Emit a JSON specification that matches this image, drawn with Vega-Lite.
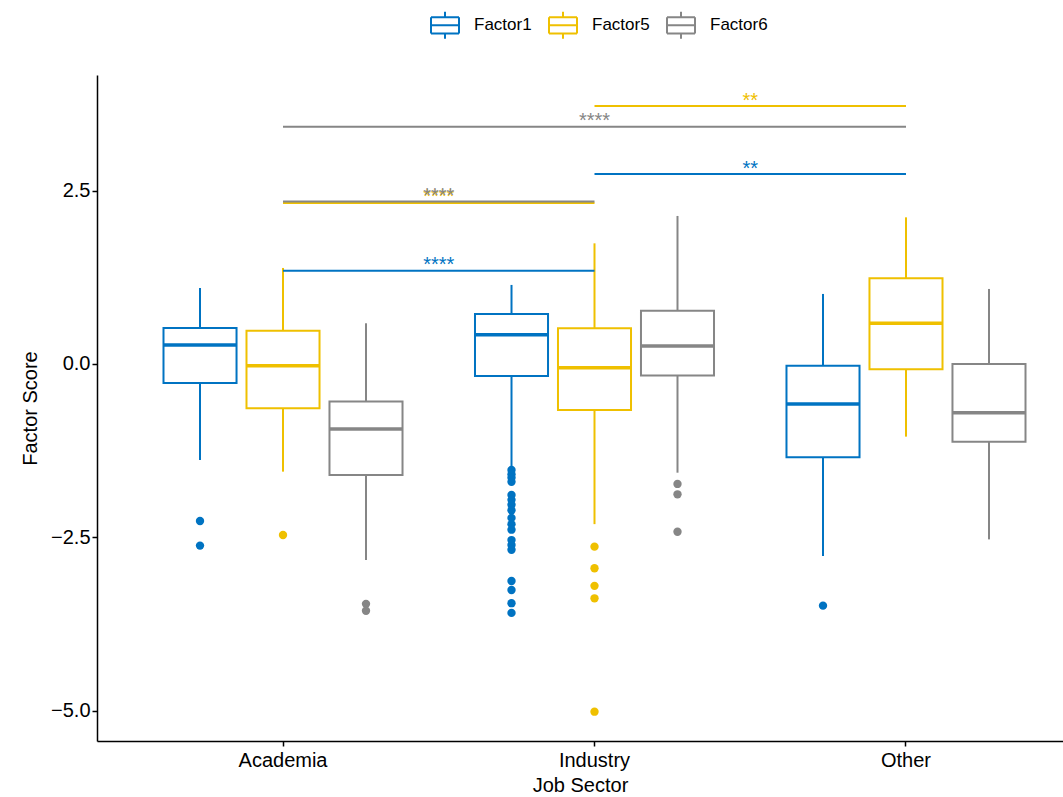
{
  "$schema": "https://vega.github.io/schema/vega-lite/v6.json",
  "autosize": {"type": "none"},
  "padding": {"left": 97, "top": 75, "right": 0, "bottom": 56},
  "width": 966,
  "height": 666,
  "config": {
    "view": {"stroke": null},
    "font": "Liberation Sans",
    "axis": {"grid": false, "domainColor": "black", "domainWidth": 1.5, "tickColor": "black", "tickWidth": 1.5, "tickSize": 5, "labelColor": "black", "labelFontSize": 20, "titleFontSize": 20, "titleFontWeight": "normal", "titleColor": "black", "labelFont": "Liberation Sans", "titleFont": "Liberation Sans"}
  },
  "datasets": {
    "boxes": [
      {"sector": "Academia", "factor": "Factor1", "lo": -1.385, "q1": -0.274, "med": 0.274, "q3": 0.519, "hi": 1.096},
      {"sector": "Academia", "factor": "Factor5", "lo": -1.553, "q1": -0.64, "med": -0.024, "q3": 0.48, "hi": 1.385},
      {"sector": "Academia", "factor": "Factor6", "lo": -2.827, "q1": -1.6, "med": -0.9375, "q3": -0.543, "hi": 0.587},
      {"sector": "Industry", "factor": "Factor1", "lo": -1.5, "q1": -0.173, "med": 0.423, "q3": 0.721, "hi": 1.14},
      {"sector": "Industry", "factor": "Factor5", "lo": -2.31, "q1": -0.663, "med": -0.053, "q3": 0.515, "hi": 1.74},
      {"sector": "Industry", "factor": "Factor6", "lo": -1.568, "q1": -0.168, "med": 0.26, "q3": 0.769, "hi": 2.135},
      {"sector": "Other", "factor": "Factor1", "lo": -2.77, "q1": -1.346, "med": -0.577, "q3": -0.024, "hi": 1.01},
      {"sector": "Other", "factor": "Factor5", "lo": -1.048, "q1": -0.077, "med": 0.587, "q3": 1.236, "hi": 2.115},
      {"sector": "Other", "factor": "Factor6", "lo": -2.53, "q1": -1.12, "med": -0.702, "q3": 0.0, "hi": 1.082}
    ],
    "outliers": [
      {"sector": "Academia", "factor": "Factor1", "value": -2.265},
      {"sector": "Academia", "factor": "Factor1", "value": -2.62},
      {"sector": "Academia", "factor": "Factor5", "value": -2.466},
      {"sector": "Academia", "factor": "Factor6", "value": -3.46},
      {"sector": "Academia", "factor": "Factor6", "value": -3.56},
      {"sector": "Industry", "factor": "Factor1", "value": -1.53},
      {"sector": "Industry", "factor": "Factor1", "value": -1.59},
      {"sector": "Industry", "factor": "Factor1", "value": -1.64},
      {"sector": "Industry", "factor": "Factor1", "value": -1.7},
      {"sector": "Industry", "factor": "Factor1", "value": -1.89},
      {"sector": "Industry", "factor": "Factor1", "value": -1.96},
      {"sector": "Industry", "factor": "Factor1", "value": -2.03},
      {"sector": "Industry", "factor": "Factor1", "value": -2.11},
      {"sector": "Industry", "factor": "Factor1", "value": -2.22},
      {"sector": "Industry", "factor": "Factor1", "value": -2.31},
      {"sector": "Industry", "factor": "Factor1", "value": -2.39},
      {"sector": "Industry", "factor": "Factor1", "value": -2.54},
      {"sector": "Industry", "factor": "Factor1", "value": -2.61},
      {"sector": "Industry", "factor": "Factor1", "value": -2.68},
      {"sector": "Industry", "factor": "Factor1", "value": -3.13},
      {"sector": "Industry", "factor": "Factor1", "value": -3.26},
      {"sector": "Industry", "factor": "Factor1", "value": -3.45},
      {"sector": "Industry", "factor": "Factor1", "value": -3.59},
      {"sector": "Industry", "factor": "Factor5", "value": -2.635},
      {"sector": "Industry", "factor": "Factor5", "value": -2.947},
      {"sector": "Industry", "factor": "Factor5", "value": -3.2},
      {"sector": "Industry", "factor": "Factor5", "value": -3.38},
      {"sector": "Industry", "factor": "Factor5", "value": -5.015},
      {"sector": "Industry", "factor": "Factor6", "value": -1.73},
      {"sector": "Industry", "factor": "Factor6", "value": -1.88},
      {"sector": "Industry", "factor": "Factor6", "value": -2.42},
      {"sector": "Other", "factor": "Factor1", "value": -3.486}
    ],
    "brackets": [
      {"from": "Academia", "to": "Industry", "factor": "Factor1", "y": 1.346, "label": "****"},
      {"from": "Academia", "to": "Industry", "factor": "Factor5", "y": 2.322, "label": "****"},
      {"from": "Academia", "to": "Industry", "factor": "Factor6", "y": 2.345, "label": "****"},
      {"from": "Industry", "to": "Other", "factor": "Factor1", "y": 2.74, "label": "**"},
      {"from": "Academia", "to": "Other", "factor": "Factor6", "y": 3.42, "label": "****"},
      {"from": "Industry", "to": "Other", "factor": "Factor5", "y": 3.72, "label": "**"}
    ]
  },
  "encoding": {
    "x": {"field": "sector", "type": "nominal", "sort": ["Academia", "Industry", "Other"],
      "scale": {"domain": ["Academia", "Industry", "Other"], "paddingInner": 0, "paddingOuter": 0.0506, "align": 0.96},
      "axis": {"labelAngle": 0, "title": "Job Sector", "labelPadding": 4, "titlePadding": 5, "domainWidth": 1.5}}
  },
  "layer": [
    {
      "data": {"name": "boxes"},
      "mark": {"type": "rule", "strokeWidth": 2},
      "encoding": {
        "xOffset": {"field": "factor", "type": "nominal", "scale": {"domain": ["Factor1", "Factor5", "Factor6"], "paddingInner": 0.12, "paddingOuter": 0.4366}},
        "y": {"field": "lo", "type": "quantitative", "scale": {"domain": [-5.438, 4.168], "nice": false, "zero": false},
          "axis": {"values": [-5, -2.5, 0, 2.5], "format": ".1f", "title": "Factor Score", "titlePadding": 10}},
        "y2": {"field": "q1"},
        "stroke": {"field": "factor", "type": "nominal",
          "scale": {"domain": ["Factor1", "Factor5", "Factor6"], "range": ["#0073C2", "#EFC000", "#868686"]},
          "legend": {"title": null, "orient": "none", "direction": "horizontal", "legendX": 333, "legendY": -65,
            "labelFontSize": 17, "labelColor": "black", "labelFont": "Liberation Sans", "labelOffset": 14, "columnPadding": 13,
            "symbolType": "M-1,-0.58H1M1,-0.58V0.58M1,0.58H-1M-1,0.58V-0.58M-1,0H1M0,-0.96V-0.58M0,0.58V0.96", "symbolSize": 784, "symbolStrokeWidth": 2,
            "symbolFillColor": "transparent"}
        }
      }
    },
    {
      "data": {"name": "boxes"},
      "mark": {"type": "rule", "strokeWidth": 2},
      "encoding": {
        "xOffset": {"field": "factor", "type": "nominal"},
        "y": {"field": "q3", "type": "quantitative"},
        "y2": {"field": "hi"},
        "stroke": {"field": "factor", "type": "nominal"}
      }
    },
    {
      "data": {"name": "boxes"},
      "mark": {"type": "bar", "filled": false, "strokeWidth": 2},
      "encoding": {
        "xOffset": {"field": "factor", "type": "nominal"},
        "y": {"field": "q1", "type": "quantitative"},
        "y2": {"field": "q3"},
        "stroke": {"field": "factor", "type": "nominal"}
      }
    },
    {
      "data": {"name": "boxes"},
      "mark": {"type": "tick", "thickness": 3.5, "size": 73, "opacity": 1},
      "encoding": {
        "xOffset": {"field": "factor", "type": "nominal"},
        "y": {"field": "med", "type": "quantitative"},
        "fill": {"field": "factor", "type": "nominal",
          "scale": {"domain": ["Factor1", "Factor5", "Factor6"], "range": ["#0073C2", "#EFC000", "#868686"]},
          "legend": null}
      }
    },
    {
      "data": {"name": "outliers"},
      "mark": {"type": "circle", "size": 70, "opacity": 1},
      "encoding": {
        "xOffset": {"field": "factor", "type": "nominal"},
        "y": {"field": "value", "type": "quantitative"},
        "fill": {"field": "factor", "type": "nominal", "legend": null}
      }
    },
    {
      "data": {"name": "brackets"},
      "mark": {"type": "rule", "strokeWidth": 2},
      "encoding": {
        "x": {"field": "from", "type": "nominal", "bandPosition": 0.5},
        "x2": {"field": "to", "bandPosition": 0.5},
        "y": {"field": "y", "type": "quantitative"},
        "stroke": {"field": "factor", "type": "nominal"}
      }
    },
    {
      "data": {"name": "brackets"},
      "transform": [{"filter": "datum.from !== 'Academia' || datum.to !== 'Other'"}],
      "mark": {"type": "text", "fontSize": 20, "baseline": "alphabetic", "dy": 0.5, "font": "Liberation Sans"},
      "encoding": {
        "x": {"field": "from", "type": "nominal", "bandPosition": 1},
        "y": {"field": "y", "type": "quantitative"},
        "text": {"field": "label"},
        "fill": {"field": "factor", "type": "nominal", "legend": null}
      }
    },
    {
      "data": {"name": "brackets"},
      "transform": [{"filter": "datum.from === 'Academia' && datum.to === 'Other'"}],
      "mark": {"type": "text", "fontSize": 20, "baseline": "alphabetic", "dy": 0.5, "font": "Liberation Sans"},
      "encoding": {
        "x": {"field": "from", "type": "nominal", "bandPosition": 1.5},
        "y": {"field": "y", "type": "quantitative"},
        "text": {"field": "label"},
        "fill": {"field": "factor", "type": "nominal", "legend": null}
      }
    }
  ]
}
